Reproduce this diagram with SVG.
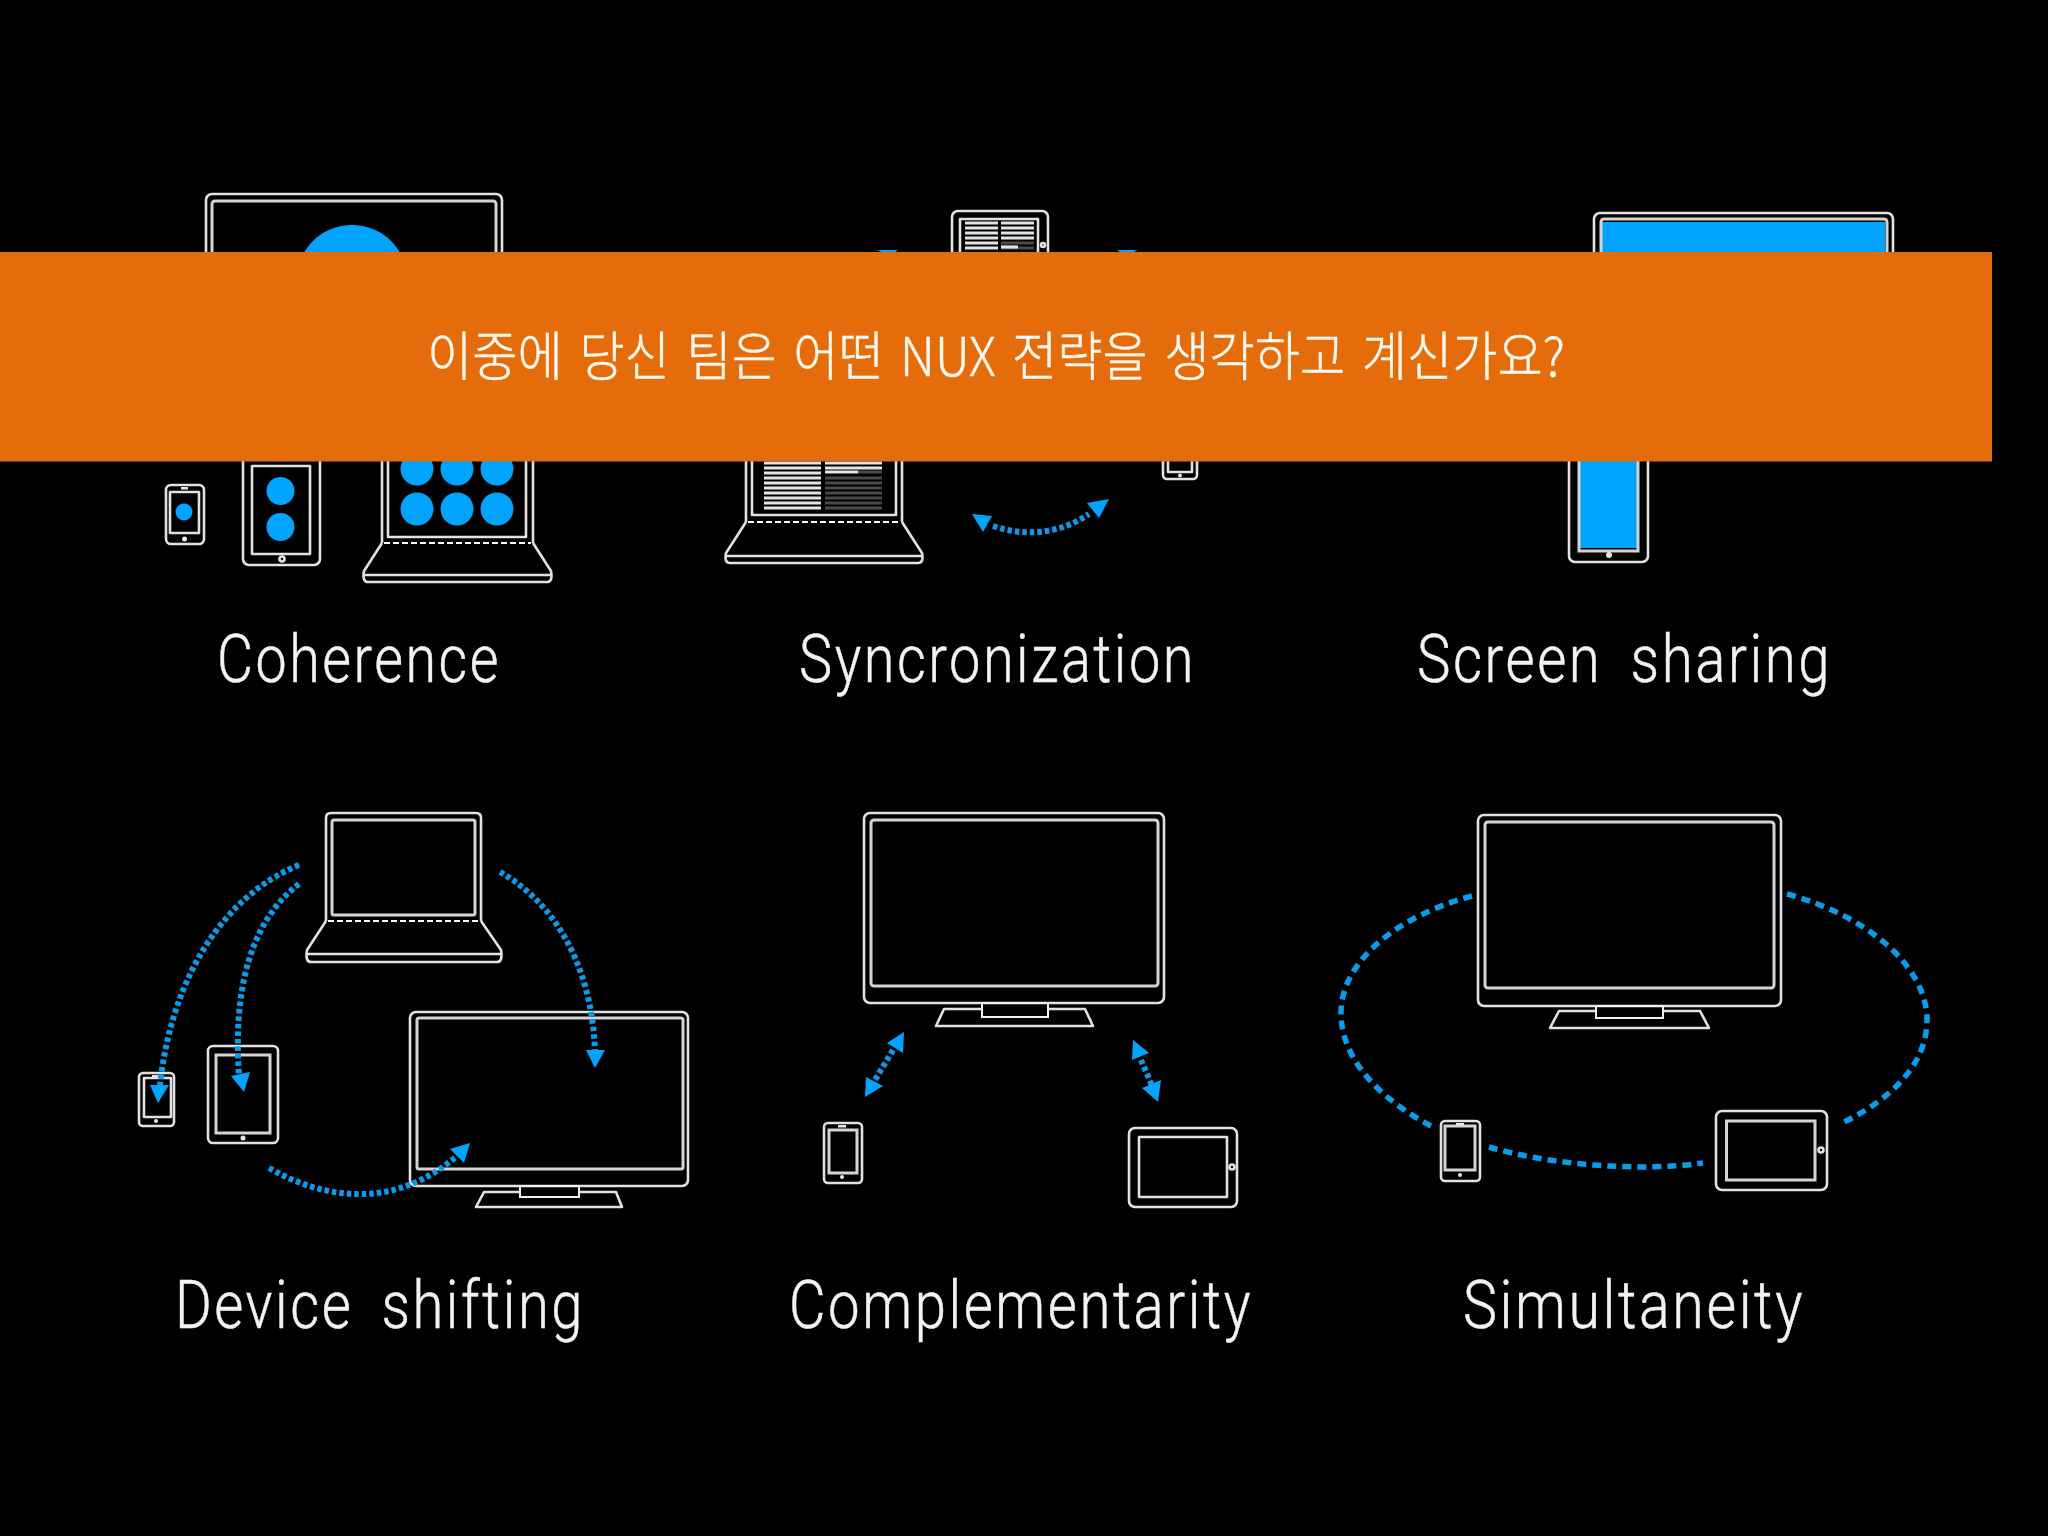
<svg xmlns="http://www.w3.org/2000/svg" width="2048" height="1536" viewBox="0 0 2048 1536">
<defs>
<style>
.o{fill:none;stroke:#e2e2e2;stroke-width:2.6;stroke-linejoin:round}
.t{fill:none;stroke:#f2f2f2;stroke-width:2}
.i{fill:none;stroke:#d4d4d4;stroke-width:3}
.b{fill:#00a4ff}
.f{fill:#00a4ff;stroke:none}
.g{fill:#e6e6e6}
.d{fill:none;stroke:#0a9cec;stroke-width:6;stroke-dasharray:4.5 3}
.s{fill:none;stroke:#0a9cec;stroke-width:5.5;stroke-dasharray:9 6}
.h{fill:none;stroke:#fff;stroke-width:2;stroke-dasharray:6 3}
.w{fill:none;stroke:#e4e4e4;stroke-width:3.2}
.k{fill:none;stroke:#4a4a4a;stroke-width:3.2}
.l{font-family:"Roboto","Liberation Sans",sans-serif;font-size:66px;fill:#f2f2f2;stroke:#f2f2f2;stroke-width:.5;font-weight:300;letter-spacing:3px;word-spacing:14px}
</style>
</defs>
<rect width="2048" height="1536" fill="#000"/>
<g id="coherence">
<rect class="o" x="206" y="194" width="296" height="200" rx="6"/><rect class="i" x="212" y="201" width="284" height="180" rx="3"/>
<circle class="b" cx="352" cy="281" r="56"/>
<rect class="o" x="166" y="485" width="38" height="59" rx="5"/><rect class="o" x="170" y="492" width="29" height="41"/><circle class="b" cx="184" cy="512" r="8.500"/><circle class="g" cx="184.500" cy="539" r="2.500"/><rect class="g" x="181" y="487" width="7" height="2.500"/>
<rect class="o" x="243" y="440" width="77" height="125" rx="6"/><rect class="o" x="252" y="466" width="58" height="88"/><circle class="b" cx="280.500" cy="491" r="14"/><circle class="b" cx="280.500" cy="527" r="14"/><circle class="o" cx="282" cy="559" r="2.500"/>
<path class="o" d="M382 543V430H533V543"/><path class="o" d="M388 430V537H526V430"/><path class="h" d="M384 543H531"/>
<path class="o" d="M382 543L364 571Q362 582 368 582H547Q553 582 551 571L533 543M364 575H551"/>
<circle class="b" cx="417" cy="469" r="16.500"/><circle class="b" cx="457" cy="469" r="16.500"/><circle class="b" cx="497" cy="469" r="16.500"/><circle class="b" cx="417" cy="509" r="16.500"/><circle class="b" cx="457" cy="509" r="16.500"/><circle class="b" cx="497" cy="509" r="16.500"/>
<text class="l" x="217" y="682" textLength="284" lengthAdjust="spacingAndGlyphs">Coherence</text>
</g>
<g id="syncronization">
<rect class="o" x="952" y="211" width="96" height="120" rx="6"/><rect class="o" x="960" y="219" width="78" height="100"/>
<path class="w" d="M965 223H998M965 228H998M965 233H998M965 238H998M965 243H998M965 248H998M1001 223H1034M1001 228H1034M1001 233H1034M1001 238H1034"/><path class="k" d="M1001 243H1034M1001 248H1034"/><path class="w" d="M1001 247H1018"/><circle class="o" cx="1043" cy="245" r="2"/>
<path class="o" d="M746 522V430H902V522"/><path class="o" d="M752 430V515H896V430"/><path class="h" d="M748 522H900"/>
<path class="o" d="M746 522L726 553Q724 563 730 563H918Q924 563 922 553L902 522M726 556H922"/>
<path class="w" d="M764 463H821M764 468H821M764 473H821M764 478H821M764 483H821M764 488H821M764 493H821M764 498H821M764 503H821M764 508H821M825 463H882M825 468H882M825 472H858"/><path class="k" d="M858 472H882M825 478H882M825 483H882M825 488H882M825 493H882M825 498H882M825 503H882M825 508H882"/>
<rect class="o" x="1163" y="420" width="34" height="59" rx="4"/><path class="o" d="M1168 420V472H1192V420"/><circle class="g" cx="1180" cy="475.500" r="2"/>
<text class="l" x="799" y="682" textLength="397" lengthAdjust="spacingAndGlyphs">Syncronization</text>
</g>
<g id="screen-sharing">
<rect class="b" x="1602" y="222" width="283" height="150"/><rect class="o" x="1594" y="213" width="299" height="200" rx="6"/><rect class="i" x="1601" y="219" width="286" height="160" rx="3"/>
<rect class="b" x="1580" y="440" width="57" height="108"/><rect class="o" x="1569" y="420" width="79" height="142" rx="6"/><path class="i" d="M1579 440V551H1638V440"/><circle class="g" cx="1609" cy="555" r="3"/>
<text class="l" x="1417" y="682" textLength="415" lengthAdjust="spacingAndGlyphs">Screen sharing</text>
</g>
<g id="device-shifting">
<path class="o" d="M326 921V818Q326 813 331 813H476Q481 813 481 818V921"/><rect class="i" x="332" y="820" width="143" height="95" rx="2"/><path class="h" d="M328 921H479"/>
<path class="o" d="M326 921L307 950Q305 962 311 962H497Q503 962 501 950L481 921M307 954H501"/>
<rect class="o" x="410" y="1012" width="278" height="174" rx="6"/><rect class="i" x="417" y="1018" width="266" height="151" rx="2"/>
<rect class="t" x="520" y="1186" width="59" height="11"/><path class="o" d="M520 1192H484L476 1207H622L616 1192H579"/>
<rect class="o" x="139" y="1073" width="35" height="53" rx="4"/><rect class="o" x="144" y="1078" width="27" height="39"/><circle class="g" cx="156" cy="1121" r="2"/><rect class="g" x="152" y="1075" width="7" height="2.500"/>
<rect class="o" x="208" y="1046" width="70" height="97" rx="5"/><rect class="i" x="216" y="1055" width="54" height="78"/><circle class="g" cx="243" cy="1138" r="2.500"/>
<text class="l" x="175" y="1328" textLength="410" lengthAdjust="spacingAndGlyphs">Device shifting</text>
</g>
<g id="complementarity">
<rect class="o" x="864" y="813" width="300" height="190" rx="6"/><rect class="i" x="871" y="820" width="287" height="166" rx="3"/>
<rect class="t" x="982" y="1003" width="66" height="14"/><path class="o" d="M982 1009H944L936 1026H1093L1085 1009H1048"/>
<rect class="o" x="824" y="1123" width="38" height="60" rx="4"/><rect class="i" x="829" y="1130" width="28" height="43"/><circle class="g" cx="842" cy="1177" r="2"/><rect class="g" x="838" y="1125" width="8" height="2.500"/>
<rect class="o" x="1129" y="1128" width="108" height="79" rx="6"/><rect class="o" x="1139" y="1137" width="88" height="60"/><circle class="o" cx="1232" cy="1167" r="2.500"/>
<text class="l" x="789" y="1328" textLength="464" lengthAdjust="spacingAndGlyphs">Complementarity</text>
</g>
<g id="simultaneity">
<rect class="o" x="1478" y="815" width="303" height="191" rx="6"/><rect class="i" x="1485" y="822" width="289" height="166" rx="3"/>
<rect class="t" x="1596" y="1006" width="67" height="12"/><path class="o" d="M1596 1011H1559L1550 1028H1709L1700 1011H1663"/>
<rect class="o" x="1441" y="1121" width="39" height="60" rx="4"/><rect class="i" x="1445" y="1126" width="30" height="44"/><circle class="g" cx="1460" cy="1175" r="2"/><rect class="g" x="1456" y="1123" width="8" height="2.500"/>
<rect class="o" x="1716" y="1111" width="111" height="79" rx="6"/><rect class="i" x="1726.500" y="1121" width="88.500" height="59"/><circle class="o" cx="1821" cy="1150" r="2.500"/>
<text class="l" x="1463" y="1328" textLength="342" lengthAdjust="spacingAndGlyphs">Simultaneity</text>
</g>
<g id="connectors">
<path class="f" d="M877 250L898 250L890 256Z"/><path class="f" d="M1117 250L1138 250L1125 256Z"/>
<path class="d" d="M993 526C1025 537 1060 534 1089 514"/><path class="f" d="M972 514L992 516L983 532Z"/><path class="f" d="M1109 499L1087 503L1099 518Z"/>
<path class="d" d="M299 865C225 895 172 975 160 1085"/><path class="f" d="M158 1103L150 1085L169 1085Z"/>
<path class="d" d="M299 884C258 915 232 975 239 1075"/><path class="f" d="M244 1092L231 1076L250 1072Z"/>
<path class="d" d="M500 872C550 900 592 960 595 1052"/><path class="f" d="M595 1068L586 1050L605 1050Z"/>
<path class="d" d="M269 1168C325 1200 395 1210 458 1155"/><path class="f" d="M470 1143L450 1149L464 1163Z"/>
<path class="d" d="M893 1050L875 1080"/><path class="f" d="M904 1032L887 1043L903 1053Z"/><path class="f" d="M865 1097L866 1077L883 1086Z"/>
<path class="d" d="M1141 1060L1153 1088"/><path class="f" d="M1133 1040L1132 1060L1149 1053Z"/><path class="f" d="M1158 1102L1142 1088L1161 1080Z"/>
<path class="s" d="M1472 896C1400 915 1341 960 1341 1013C1341 1065 1390 1105 1433 1127"/>
<path class="s" d="M1787 894C1865 915 1927 965 1927 1020C1927 1065 1890 1100 1842 1123"/>
<path class="s" d="M1489 1147C1550 1165 1640 1172 1703 1163"/>
</g>
<g id="banner">
<rect x="0" y="252" width="1992" height="209.500" fill="#e46c0a"/>
<text x="427" y="376" font-family="Noto Sans CJK KR,sans-serif" font-size="53" font-weight="300" word-spacing="6" fill="#fff8ee" stroke="#fff8ee" stroke-width="0.5" textLength="1138" lengthAdjust="spacingAndGlyphs">이중에 당신 팀은 어떤 NUX 전략을 생각하고 계신가요?</text>
</g>
</svg>
